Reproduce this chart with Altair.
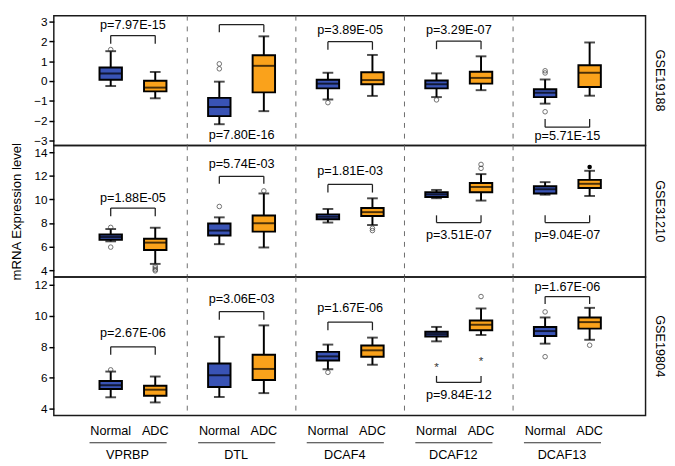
import altair as alt
import pandas as pd

genes = ["VPRBP", "DTL", "DCAF4", "DCAF12", "DCAF13"]
groups = ["Normal", "ADC"]
datasets = ["GSE19188", "GSE31210", "GSE19804"]

# order in each list: VPRBP N, VPRBP A, DTL N, DTL A, DCAF4 N, DCAF4 A, DCAF12 N, DCAF12 A, DCAF13 N, DCAF13 A
lo_19188 = [-0.25, -0.87, -2.18, -1.52, -0.93, -0.75, -0.81, -0.46, -1.14, -0.74]
q1_19188 = [0.07, -0.52, -1.77, -0.57, -0.37, -0.16, -0.37, -0.13, -0.81, -0.30]
med_19188 = [0.38, -0.33, -1.31, 0.77, -0.13, 0.05, -0.16, 0.16, -0.59, 0.42]
q3_19188 = [0.69, 0.02, -0.85, 1.30, 0.07, 0.45, 0.03, 0.47, -0.41, 0.80]
hi_19188 = [1.51, 0.46, -0.03, 2.26, 0.42, 1.32, 0.39, 1.25, 0.08, 1.95]

lo_31210 = [6.45, 4.54, 6.21, 5.93, 8.04, 7.83, 10.10, 9.90, 10.40, 10.29]
q1_31210 = [6.59, 5.72, 6.95, 7.27, 8.32, 8.59, 10.20, 10.61, 10.50, 10.97]
med_31210 = [6.81, 6.34, 7.36, 7.98, 8.53, 8.92, 10.42, 11.05, 10.86, 11.32]
q3_31210 = [7.03, 6.67, 7.96, 8.64, 8.73, 9.27, 10.60, 11.38, 11.11, 11.65]
hi_31210 = [7.49, 7.60, 8.48, 10.50, 9.19, 10.09, 10.80, 12.14, 11.46, 12.42]

lo_19804 = [4.74, 4.41, 4.76, 5.01, 6.55, 6.84, 8.35, 8.76, 8.20, 8.45]
q1_19804 = [5.27, 4.84, 5.40, 5.85, 7.11, 7.36, 8.66, 9.07, 8.70, 9.17]
med_19804 = [5.52, 5.23, 6.16, 6.57, 7.38, 7.77, 8.82, 9.42, 9.01, 9.59]
q3_19804 = [5.79, 5.48, 6.92, 7.49, 7.67, 8.08, 8.97, 9.69, 9.28, 9.89]
hi_19804 = [6.40, 6.08, 8.64, 9.38, 8.14, 8.59, 9.28, 10.47, 9.89, 10.51]

# outliers: (dataset, gene, group, value, kind)
outliers = [
    ("GSE19188", "VPRBP", "Normal", 1.59, "o"),
    ("GSE19188", "DTL", "Normal", 0.62, "o"),
    ("GSE19188", "DTL", "Normal", 0.87, "o"),
    ("GSE19188", "DCAF4", "Normal", -1.09, "o"),
    ("GSE19188", "DCAF12", "Normal", -0.95, "o"),
    ("GSE19188", "DCAF13", "Normal", 0.41, "o"),
    ("GSE19188", "DCAF13", "Normal", 0.52, "o"),
    ("GSE19188", "DCAF13", "Normal", -1.55, "o"),
    ("GSE31210", "VPRBP", "Normal", 7.63, "o"),
    ("GSE31210", "VPRBP", "Normal", 5.96, "o"),
    ("GSE31210", "VPRBP", "ADC", 4.35, "o"),
    ("GSE31210", "VPRBP", "ADC", 4.20, "o"),
    ("GSE31210", "VPRBP", "ADC", 4.05, "o"),
    ("GSE31210", "VPRBP", "ADC", 3.95, "o"),
    ("GSE31210", "DTL", "Normal", 9.40, "o"),
    ("GSE31210", "DTL", "ADC", 10.72, "o"),
    ("GSE31210", "DCAF4", "ADC", 7.55, "o"),
    ("GSE31210", "DCAF4", "ADC", 7.36, "o"),
    ("GSE31210", "DCAF12", "ADC", 12.63, "o"),
    ("GSE31210", "DCAF12", "ADC", 12.96, "o"),
    ("GSE31210", "DCAF13", "ADC", 12.74, "dot"),
    ("GSE19804", "VPRBP", "Normal", 6.51, "o"),
    ("GSE19804", "DCAF4", "Normal", 6.35, "o"),
    ("GSE19804", "DCAF12", "ADC", 11.24, "o"),
    ("GSE19804", "DCAF12", "Normal", 6.69, "star"),
    ("GSE19804", "DCAF12", "ADC", 7.05, "star"),
    ("GSE19804", "DCAF13", "Normal", 10.25, "o"),
    ("GSE19804", "DCAF13", "Normal", 7.36, "o"),
    ("GSE19804", "DCAF13", "ADC", 8.10, "o"),
]

# p-value brackets per dataset (one per gene)
p_19188 = ["p=7.97E-15", "p=7.80E-16", "p=3.89E-05", "p=3.29E-07", "p=5.71E-15"]
bar_19188 = [2.30, 2.85, 1.99, 2.02, -2.33]
leg_19188 = [1.89, 2.46, 1.58, 1.61, -1.92]
txt_19188 = [2.82, -2.75, 2.56, 2.56, -2.79]

p_31210 = ["p=1.88E-05", "p=5.74E-03", "p=1.81E-03", "p=3.51E-07", "p=9.04E-07"]
bar_31210 = [9.27, 11.95, 11.27, 8.04, 8.04]
leg_31210 = [8.58, 11.32, 10.58, 8.65, 8.65]
txt_31210 = [10.09, 12.96, 12.42, 6.95, 6.95]

p_19804 = ["p=2.67E-06", "p=3.06E-03", "p=1.67E-06", "p=9.84E-12", "p=1.67E-06"]
bar_19804 = [8.00, 10.27, 9.59, 5.70, 11.24]
leg_19804 = [7.49, 9.75, 9.07, 6.12, 10.76]
txt_19804 = [8.89, 11.09, 10.51, 4.88, 11.86]

y_domains = [[-3.25, 3.3], [3.43, 14.57], [3.57, 12.5]]
y_ticks = [[-3, -2, -1, 0, 1, 2, 3], [4, 6, 8, 10, 12, 14], [4, 6, 8, 10, 12]]
x_domain = [-0.684, 4.675]
row_heights = [133, 135, 142]
W = 607
DODGE = 0.205
colors = ["#3953B5", "#FAA21B"]

stats = {
    "GSE19188": (lo_19188, q1_19188, med_19188, q3_19188, hi_19188),
    "GSE31210": (lo_31210, q1_31210, med_31210, q3_31210, hi_31210),
    "GSE19804": (lo_19804, q1_19804, med_19804, q3_19804, hi_19804),
}
brackets = {
    "GSE19188": (p_19188, bar_19188, leg_19188, txt_19188),
    "GSE31210": (p_31210, bar_31210, leg_31210, txt_31210),
    "GSE19804": (p_19804, bar_19804, leg_19804, txt_19804),
}

def xpos(gene, group):
    return genes.index(gene) + (-DODGE if group == "Normal" else DODGE)

box_rows = []
for ds in datasets:
    lo, q1, med, q3, hi = stats[ds]
    k = 0
    for g in genes:
        for grp in groups:
            box_rows.append(dict(dataset=ds, gene=g, group=grp, x=xpos(g, grp),
                                 lo=lo[k], q1=q1[k], med=med[k], q3=q3[k], hi=hi[k]))
            k += 1
boxes = pd.DataFrame(box_rows)

out_df = pd.DataFrame([dict(dataset=d, x=xpos(g, grp), value=v, kind=kd)
                       for d, g, grp, v, kd in outliers])

br_rows = []
for ds in datasets:
    p, bar, leg, txt = brackets[ds]
    for i, g in enumerate(genes):
        br_rows.append(dict(dataset=ds, gi=i, xn=i - DODGE, xa=i + DODGE,
                            bar=bar[i], leg=leg[i], ty=txt[i], ptext=p[i]))
br_df = pd.DataFrame(br_rows)

sep_df = pd.DataFrame({"pos": [i + 0.5 for i in range(len(genes) - 1)]})
gene_df = pd.DataFrame({"gene": genes, "gx": [i - 0.05 for i in range(len(genes))],
                        "u1": [i - 0.40 for i in range(len(genes))],
                        "u2": [i + 0.31 for i in range(len(genes))]})

xscale = alt.Scale(domain=x_domain, nice=False, zero=False)
FONT = "Liberation Sans"


def row_chart(k):
    ds = datasets[k]
    h = row_heights[k]
    bx = boxes[boxes.dataset == ds]
    od = out_df[out_df.dataset == ds]
    bd = br_df[br_df.dataset == ds]
    yscale = alt.Scale(domain=y_domains[k], nice=False, zero=False)
    yaxis = alt.Axis(values=y_ticks[k], tickSize=5, tickWidth=1.5, tickColor="black",
                     labelColor="black", labelFontSize=12, labelPadding=2, labelFont=FONT,
                     domain=False, grid=False, labelFlush=False, labelOverlap=False,
                     title="mRNA Expression level" if k == 1 else "",
                     titleFontSize=13.5, titleFontWeight="normal", titleFont=FONT,
                     titleColor="black", titlePadding=11)
    X = lambda f: alt.X(f, scale=xscale, axis=None)
    Y = lambda f: alt.Y(f, scale=yscale, axis=yaxis)

    sep = alt.Chart(sep_df).mark_rule(color="#6a6a6a", strokeDash=[5, 6], strokeWidth=1).encode(
        x=X("pos:Q"))
    whisk = alt.Chart(bx).mark_rule(color="black", strokeWidth=2).encode(
        x=X("x:Q"), y=Y("lo:Q"), y2="hi:Q")
    caps = alt.Chart(bx).transform_fold(["lo", "hi"]).mark_tick(
        orient="horizontal", size=11, thickness=2, color="black").encode(
        x=X("x:Q"), y=Y("value:Q"))
    box = alt.Chart(bx).mark_bar(size=23, stroke="black", strokeWidth=2).encode(
        x=X("x:Q"), y=Y("q1:Q"), y2="q3:Q",
        color=alt.Color("group:N", scale=alt.Scale(domain=groups, range=colors), legend=None))
    med = alt.Chart(bx).mark_tick(orient="horizontal", size=23, thickness=2, color="black").encode(
        x=X("x:Q"), y=Y("med:Q"))
    pts = alt.Chart(od).transform_filter("datum.kind == 'o'").mark_point(
        shape="circle", filled=False, size=22, color="#333333", strokeWidth=1).encode(
        x=X("x:Q"), y=Y("value:Q"))
    dots = alt.Chart(od).transform_filter("datum.kind == 'dot'").mark_point(
        shape="circle", filled=True, size=22, color="black", opacity=1).encode(
        x=X("x:Q"), y=Y("value:Q"))
    stars = alt.Chart(od).transform_filter("datum.kind == 'star'").mark_text(
        text="*", fontSize=12, font=FONT, color="#333333", baseline="middle").encode(
        x=X("x:Q"), y=Y("value:Q"))
    hbar = alt.Chart(bd).mark_rule(color="#222222", strokeWidth=1.3).encode(
        x=X("xn:Q"), x2="xa:Q", y=Y("bar:Q"))
    legs = alt.Chart(bd).transform_fold(["xn", "xa"], as_=["side", "lx"]).mark_rule(
        color="#222222", strokeWidth=1.3).encode(x=X("lx:Q"), y=Y("bar:Q"), y2="leg:Q")
    ptxt = alt.Chart(bd).mark_text(fontSize=13, font=FONT, color="black", baseline="middle").encode(
        x=X("gi:Q"), y=Y("ty:Q"), text="ptext:N")
    lab = alt.Chart(pd.DataFrame({"label": [ds]})).mark_text(
        angle=90, fontSize=13, font=FONT, color="black", align="center", baseline="middle").encode(
        text="label:N", x=alt.value(W + 15), y=alt.value(h / 2))
    layers = [sep, whisk, caps, box, med, pts, dots, stars, hbar, legs, ptxt, lab]
    if k == len(datasets) - 1:
        grp_txt = alt.Chart(bx).mark_text(fontSize=13, font=FONT, color="black", baseline="middle").encode(
            x=X("x:Q"), y=alt.value(h + 16), text="group:N")
        uline = alt.Chart(gene_df).mark_rule(color="#333333", strokeWidth=1.2).encode(
            x=X("u1:Q"), x2="u2:Q", y=alt.value(h + 28))
        gtxt = alt.Chart(gene_df).mark_text(fontSize=13, font=FONT, color="black", baseline="middle").encode(
            x=X("gx:Q"), y=alt.value(h + 41), text="gene:N")
        layers += [grp_txt, uline, gtxt]
    return alt.layer(*layers).properties(width=W, height=h)


chart = alt.vconcat(*[row_chart(k) for k in range(3)], spacing=0, bounds="flush").properties(
    padding={"left": 0, "top": 0, "right": 0, "bottom": 0}
).configure(font=FONT).configure_view(stroke="#1a1a1a", strokeWidth=1.5)

chart.save("out.html", embed_options={"renderer": "svg", "actions": False})
